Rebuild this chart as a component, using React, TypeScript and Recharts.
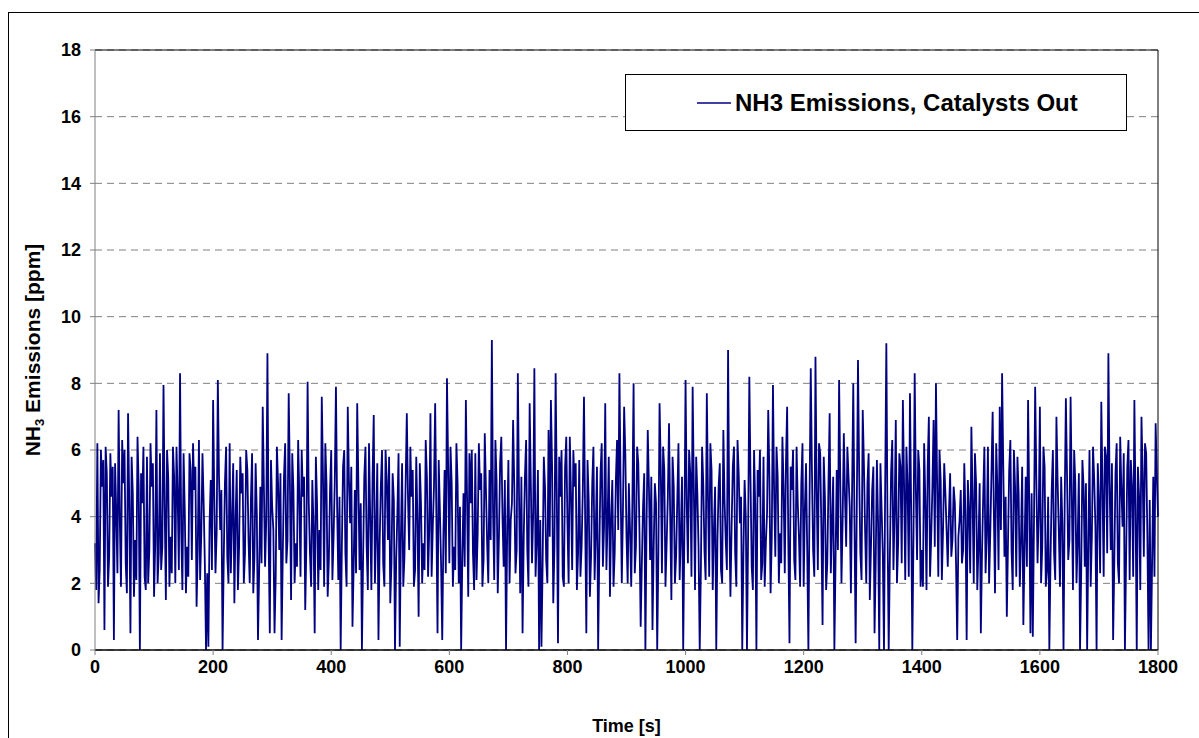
import { LineChart, Line, XAxis, YAxis, CartesianGrid, Legend, ReferenceLine } from "recharts";

// NH3 readings at t = 0, 4, 8 ... s, split in 200 s blocks
const seg0 = [
  3.2, 6.2, 2.4, 4.9, 0.6, 5.3, 2.8, 4.6, 0.3, 4.1,
  7.2, 1.9, 5.0, 2.6, 7.1, 0.5, 4.7, 3.3, 6.4, 0,
  4.4, 2.2, 5.8, 3.0, 4.9, 1.6, 7.2, 2.9, 2.4, 7.95,
  1.5, 5.2, 3.4, 6.1, 2.0, 4.6, 8.3, 1.8, 4.2, 3.1,
  5.9, 2.7, 4.8, 1.3, 6.3, 3.5, 4.4, 0, 0.1, 5.1,
];
const seg1 = [
  7.5, 2.3, 8.1, 3.6, 0, 5.0, 2.8, 6.2, 3.9, 1.4,
  5.4, 3.1, 4.7, 2.0, 6.0, 3.3, 4.5, 1.7, 5.6, 0.3,
  4.9, 7.3, 2.5, 8.9, 0.5, 4.3, 0.5, 6.1, 3.0, 0.3,
  5.2, 2.6, 7.7, 1.5, 4.8, 3.2, 6.3, 2.2, 4.6, 1.2,
  8.05, 2.9, 5.1, 0.5, 4.4, 3.6, 7.6, 1.9, 5.0, 2.7,
];
const seg2 = [
  6.0, 3.4, 7.9, 2.1, 0, 5.5, 2.9, 7.3, 3.8, 0.7,
  4.8, 7.4, 2.4, 0, 5.2, 3.1, 6.2, 1.8, 7.05, 3.5,
  0.3, 4.9, 2.6, 6.0, 3.3, 1.4, 5.3, 0, 4.1, 0.1,
  5.6, 2.8, 7.1, 3.0, 4.6, 1.9, 5.8, 1.0, 4.4, 3.2,
  6.3, 2.2, 7.1, 3.7, 7.4, 0.5, 4.2, 0.3, 5.4, 8.15,
];
const seg3 = [
  2.6, 5.0, 3.1, 6.2, 2.0, 0, 4.7, 7.5, 1.6, 4.4,
  2.9, 5.9, 3.5, 4.8, 1.9, 6.5, 3.2, 5.4, 9.3, 2.1,
  5.1, 3.4, 6.4, 2.5, 0, 5.7, 3.9, 6.9, 2.3, 8.3,
  1.7, 0.5, 5.2, 3.0, 7.4, 2.6, 8.45, 3.3, 0, 0.1,
  5.8, 2.7, 6.6, 7.5, 1.4, 8.3, 0.2, 4.6, 2.2, 5.5,
];
const seg4 = [
  3.8, 6.4, 2.4, 4.9, 1.8, 5.7, 3.1, 7.6, 0.5, 4.5,
  2.8, 6.1, 3.6, 0, 5.3, 2.5, 7.4, 3.9, 1.6, 5.1,
  2.9, 6.3, 8.3, 2.0, 7.3, 3.4, 5.0, 1.9, 8.0, 3.1,
  5.6, 0.7, 4.3, 0, 6.6, 2.7, 0.6, 5.0, 0, 7.4,
  2.3, 5.4, 3.2, 6.8, 1.5, 4.9, 2.8, 6.2, 3.5, 0,
];
const seg5 = [
  8.1, 2.6, 5.3, 7.9, 1.8, 4.7, 0, 6.1, 3.0, 7.7,
  2.2, 5.4, 3.6, 0, 4.9, 2.4, 6.6, 3.3, 9.0, 1.6,
  5.5, 2.9, 6.3, 3.8, 0, 5.1, 0, 8.2, 2.5, 6.0,
  0, 4.6, 2.1, 5.8, 3.2, 7.2, 1.7, 7.95, 2.8, 5.2,
  3.5, 6.4, 2.3, 7.3, 0.2, 4.8, 2.7, 6.1, 3.4, 5.0,
];
const seg6 = [
  1.9, 5.6, 0, 8.45, 3.0, 8.8, 2.4, 5.9, 0.75, 4.6,
  2.6, 7.1, 3.8, 0, 5.4, 8.1, 2.0, 6.5, 3.1, 5.2,
  1.7, 8.0, 0.2, 8.7, 2.9, 7.2, 3.6, 5.0, 1.5, 4.8,
  0.5, 5.7, 0, 4.2, 0, 9.2, 0, 5.3, 2.4, 6.9,
  3.2, 5.5, 7.5, 2.1, 4.9, 7.7, 0, 8.3, 2.7, 5.4,
];
const seg7 = [
  3.0, 6.2, 1.8, 7.0, 3.4, 6.9, 8.0, 2.2, 5.1, 3.6,
  4.7, 2.5, 5.3, 3.3, 4.4, 0.3, 3.9, 2.6, 5.6, 0.3,
  4.2, 6.7, 2.0, 5.0, 3.1, 0.5, 4.6, 2.3, 6.1, 3.5,
  7.15, 1.7, 4.9, 7.3, 8.3, 2.8, 1.0, 5.4, 3.0, 6.0,
  2.2, 4.7, 3.3, 0.75, 5.2, 7.5, 0.5, 0.4, 7.9, 2.6,
];
const seg8 = [
  7.3, 3.1, 5.5, 2.4, 0, 4.8, 2.9, 7.0, 3.6, 5.2,
  0, 7.55, 2.7, 7.6, 1.8, 5.0, 3.3, 0, 5.7, 2.5,
  0, 6.0, 3.4, 5.1, 0, 4.4, 7.45, 2.2, 5.8, 8.9,
  3.0, 0.3, 5.3, 2.6, 6.4, 3.7, 0, 5.5, 2.1, 4.9,
  7.5, 0, 4.6, 7.0, 2.8, 5.9, 0, 0, 5.2, 6.8,
  4.0,
];

// readings in between, at t = 2, 6, 10 ... s
const mid0 = [
  1.8, 1.4, 6.0, 5.7, 6.1, 1.9, 5.9, 5.5, 5.6, 2.3,
  3.9, 6.3, 6.0, 1.7, 4.4, 5.8, 1.6, 2.1, 4.9, 5.3,
  6.1, 1.8, 2.0, 6.2, 5.6, 3.2, 2.0, 5.9, 3.1, 4.3,
  6.0, 1.9, 2.3, 5.2, 6.1, 2.4, 3.6, 5.9, 1.7, 2.2,
  5.4, 6.2, 5.5, 3.0, 2.1, 5.9, 2.6, 2.3, 3.8, 2.4,
];
const mid1 = [
  4.6, 3.5, 5.2, 4.8, 2.7, 6.1, 2.0, 2.3, 5.6, 3.9,
  1.8, 5.8, 5.3, 2.9, 5.4, 2.0, 5.9, 2.8, 4.1, 2.4,
  2.6, 4.9, 3.9, 3.4, 5.7, 3.6, 2.2, 5.0, 5.3, 2.9,
  6.2, 3.3, 5.1, 5.9, 2.0, 2.5, 4.6, 6.0, 5.2, 3.2,
  4.4, 1.9, 3.7, 5.8, 1.8, 2.4, 5.3, 6.2, 1.6, 4.8,
];
const mid2 = [
  2.1, 5.0, 4.3, 4.6, 3.1, 6.0, 1.9, 5.1, 5.5, 2.5,
  2.3, 5.0, 4.4, 2.8, 6.1, 1.8, 4.0, 5.2, 2.0, 5.6,
  3.2, 6.0, 1.9, 5.1, 5.8, 2.6, 4.5, 2.7, 5.9, 3.4,
  1.9, 5.0, 4.6, 6.1, 5.4, 2.4, 3.9, 5.6, 2.0, 2.4,
  5.2, 3.6, 2.2, 4.9, 4.1, 5.7, 2.6, 3.5, 2.3, 5.5,
];
const mid3 = [
  6.1, 1.9, 2.4, 5.0, 4.3, 2.8, 2.5, 4.6, 5.9, 6.0,
  1.8, 2.1, 6.2, 5.3, 2.7, 4.8, 2.0, 3.3, 4.2, 6.3,
  1.7, 5.6, 4.0, 5.1, 3.6, 2.0, 4.4, 4.9, 3.0, 4.7,
  5.2, 3.4, 6.3, 1.9, 5.0, 4.1, 2.2, 5.4, 3.9, 2.6,
  4.9, 2.0, 3.4, 5.5, 3.1, 4.6, 5.8, 6.0, 1.9, 6.4,
];
const mid4 = [
  2.0, 4.7, 6.0, 5.6, 2.9, 2.2, 4.8, 3.9, 5.7, 1.6,
  5.0, 2.1, 5.5, 3.0, 6.2, 3.7, 2.4, 5.8, 4.0, 1.9,
  5.1, 3.6, 5.0, 4.2, 5.9, 2.0, 3.6, 4.5, 2.3, 6.1,
  3.5, 2.6, 5.3, 3.8, 4.9, 5.2, 3.0, 4.4, 2.9, 5.5,
  6.1, 1.9, 4.6, 4.0, 5.8, 2.0, 4.5, 2.1, 5.2, 3.5,
];
const mid5 = [
  4.4, 6.0, 2.2, 4.9, 5.8, 3.1, 2.5, 5.0, 2.1, 4.6,
  6.2, 1.8, 4.9, 3.3, 5.6, 2.0, 4.5, 2.4, 4.1, 3.7,
  6.1, 1.9, 5.3, 4.6, 2.9, 4.0, 3.6, 5.1, 1.8, 4.3,
  5.4, 6.0, 2.6, 1.9, 4.1, 5.2, 3.4, 4.7, 6.1, 2.0,
  2.6, 4.9, 5.6, 3.3, 5.5, 6.0, 2.1, 4.4, 1.9, 6.2,
];
const mid6 = [
  4.2, 3.0, 4.6, 5.4, 2.2, 4.8, 6.2, 3.6, 5.8, 1.8,
  5.0, 2.3, 5.2, 2.7, 3.0, 5.1, 3.9, 4.6, 6.1, 4.3,
  4.8, 3.9, 4.4, 5.3, 2.1, 5.6, 2.0, 5.9, 3.1, 5.5,
  2.6, 3.8, 5.6, 2.9, 4.9, 3.7, 2.8, 6.3, 4.1, 2.0,
  5.9, 2.6, 5.0, 6.1, 2.2, 4.3, 3.5, 4.8, 6.0, 1.9,
];
const mid7 = [
  1.9, 4.5, 5.5, 2.2, 4.9, 3.1, 5.0, 6.0, 2.1, 5.6,
  3.6, 4.1, 2.8, 4.9, 2.6, 3.4, 4.8, 3.0, 4.0, 5.1,
  2.3, 4.6, 5.9, 1.8, 5.0, 2.9, 6.1, 3.4, 2.0, 5.3,
  4.2, 6.2, 2.4, 3.6, 5.5, 4.6, 3.2, 6.3, 1.8, 4.9,
  5.8, 1.9, 5.5, 3.0, 2.5, 4.4, 4.7, 3.8, 5.1, 4.0,
];
const mid8 = [
  2.0, 6.1, 1.9, 4.6, 2.7, 6.0, 2.1, 5.1, 1.9, 3.8,
  4.4, 5.2, 3.3, 4.7, 6.0, 2.0, 5.3, 2.4, 4.9, 5.0,
  3.2, 1.9, 6.1, 3.7, 5.6, 2.3, 4.9, 6.1, 2.9, 5.0,
  5.6, 2.6, 6.2, 2.0, 4.8, 5.9, 2.8, 6.3, 5.7, 2.2,
  4.3, 5.5, 1.8, 5.3, 6.2, 3.4, 4.5, 2.6, 2.2, 5.3,
];

const STEP = 4;
const main = [...seg0, ...seg1, ...seg2, ...seg3, ...seg4, ...seg5, ...seg6, ...seg7, ...seg8];
const between = [...mid0, ...mid1, ...mid2, ...mid3, ...mid4, ...mid5, ...mid6, ...mid7, ...mid8];

const data: { t: number; nh3: number }[] = [];
main.forEach((v, i) => {
  data.push({ t: i * STEP, nh3: v });
  if (i < between.length) data.push({ t: i * STEP + STEP / 2, nh3: between[i] });
});

const xTicks = [0, 200, 400, 600, 800, 1000, 1200, 1400, 1600, 1800];
const yTicks = [0, 2, 4, 6, 8, 10, 12, 14, 16, 18];

const FONT = "Arial, 'Liberation Sans', Helvetica, sans-serif";
const tickStyle = { fill: "#000", fontSize: 18, fontWeight: 700, fontFamily: FONT };

function YLabel(props: any) {
  const vb = props.viewBox || { y: 50, height: 600 };
  const cx = 40;
  const cy = vb.y + vb.height / 2;
  return (
    <text
      x={cx}
      y={cy}
      transform={`rotate(-90 ${cx} ${cy})`}
      textAnchor="middle"
      fontSize={21}
      fontWeight={700}
      fontFamily={FONT}
      fill="#000"
    >
      NH
      <tspan fontSize={13} dy={4}>3</tspan>
      <tspan dy={-4}> Emissions [ppm]</tspan>
    </text>
  );
}

function XLabel(props: any) {
  const vb = props.viewBox || { x: 95, width: 1063 };
  return (
    <text
      x={vb.x + vb.width / 2}
      y={732}
      textAnchor="middle"
      fontSize={18}
      fontWeight={700}
      fontFamily={FONT}
      fill="#000"
    >
      Time [s]
    </text>
  );
}

function LegendBox() {
  return (
    <div
      style={{
        width: 502,
        height: 57,
        boxSizing: "border-box",
        border: "1px solid #000",
        background: "#fff",
        display: "flex",
        alignItems: "center",
        fontFamily: FONT,
      }}
    >
      <svg width={34} height={4} style={{ marginLeft: 71 }}>
        <line x1={0} y1={2} x2={34} y2={2} stroke="#000080" strokeWidth={1.5} />
      </svg>
      <span style={{ marginLeft: 4, fontSize: 24, fontWeight: 700, color: "#000" }}>
        NH3 Emissions, Catalysts Out
      </span>
    </div>
  );
}

export default function App() {
  return (
    <div style={{ position: "absolute", left: 0, top: 0, width: 1199, height: 738, background: "#fff", overflow: "hidden" }}>
      <div style={{ position: "absolute", left: 8, top: 12, width: 1300, height: 800, border: "1px solid #000" }} />
      <div style={{ position: "absolute", left: 0, top: 0 }}>
        <LineChart width={1199} height={738} data={data} margin={{ top: 50, right: 41, bottom: 58, left: 35 }}>
          <CartesianGrid vertical={false} stroke="#808080" strokeDasharray="7 5" />
          <XAxis
            dataKey="t"
            type="number"
            domain={[0, 1800]}
            ticks={xTicks}
            height={30}
            tick={tickStyle}
            tickSize={5}
            tickMargin={5}
            axisLine={{ stroke: "#000", strokeWidth: 1.5 }}
            tickLine={{ stroke: "#808080" }}
            label={XLabel}
          />
          <YAxis
            type="number"
            domain={[0, 18]}
            ticks={yTicks}
            width={60}
            tick={tickStyle}
            tickSize={5}
            tickMargin={9}
            axisLine={{ stroke: "#808080" }}
            tickLine={{ stroke: "#808080" }}
            label={YLabel}
          />
          <ReferenceLine y={18} stroke="#000" />
          <ReferenceLine x={1800} stroke="#000" />
          <Legend
            layout="vertical"
            align="center"
            verticalAlign="middle"
            content={<LegendBox />}
            wrapperStyle={{ left: 625, top: 74, width: 502, height: 57 }}
          />
          <Line
            type="linear"
            dataKey="nh3"
            stroke="#000080"
            strokeWidth={1.8}
            dot={false}
            isAnimationActive={false}
          />
        </LineChart>
      </div>
    </div>
  );
}
